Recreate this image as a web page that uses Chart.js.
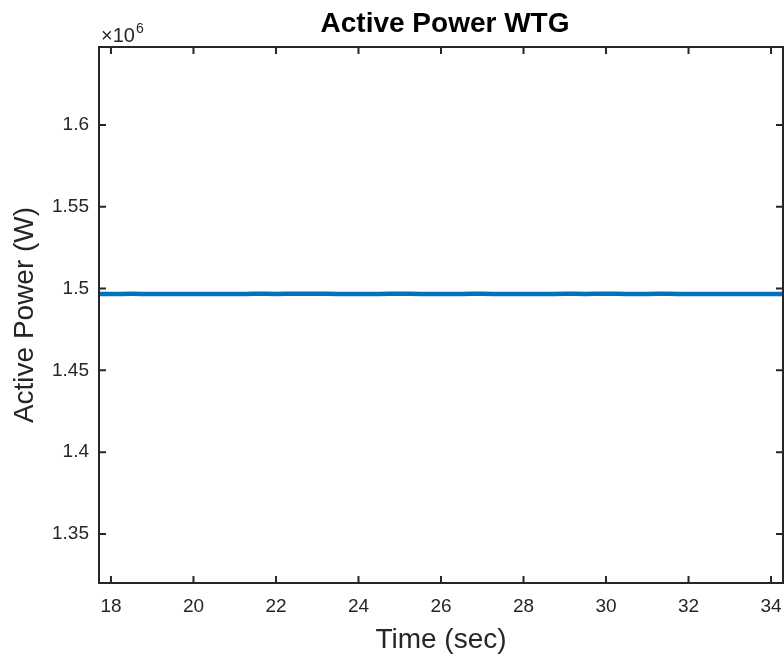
<!DOCTYPE html>
<html>
<head>
<meta charset="utf-8">
<script src="https://cdn.jsdelivr.net/npm/chart.js@4.4.1/dist/chart.umd.min.js"></script>
<style>
  html, body { margin: 0; padding: 0; background: #fff; }
  #wrap { width: 784px; height: 657px; }
</style>
</head>
<body>
<div id="wrap"><canvas id="chart" width="784" height="657"></canvas></div>
<script>
// data (time in sec, power in W)
const timeSec = [17.5, 18, 18.5, 19, 19.5, 20, 20.5, 21, 21.5, 22, 22.5, 23, 23.5, 24, 24.5, 25, 25.5,
  26, 26.5, 27, 27.5, 28, 28.5, 29, 29.5, 30, 30.5, 31, 31.5, 32, 32.5, 33, 33.5, 34, 34.5];
const powerW = [1496750, 1496700, 1496800, 1496650, 1496750, 1496700, 1496750, 1496650, 1496800, 1496750,
  1496900, 1496800, 1496750, 1496700, 1496750, 1496850, 1496700, 1496650, 1496750, 1496800, 1496650,
  1496700, 1496650, 1496800, 1496750, 1496850, 1496700, 1496750, 1496800, 1496700, 1496750, 1496650,
  1496700, 1496750, 1496700];
const xTicks = [18, 20, 22, 24, 26, 28, 30, 32, 34];
const yTicks = [1.35e6, 1.4e6, 1.45e6, 1.5e6, 1.55e6, 1.6e6];

const FONT = '"Liberation Sans", Arial, Helvetica, sans-serif';
const AX = '#262626';

// box, inward ticks, title and exponent label (MATLAB look)
const matlabAxes = {
  id: 'matlabAxes',
  afterDraw(chart) {
    const { ctx, chartArea: a, scales } = chart;
    ctx.save();
    ctx.strokeStyle = AX;
    ctx.lineWidth = 2;
    ctx.strokeRect(a.left, a.top, a.right - a.left, a.bottom - a.top);
    ctx.beginPath();
    xTicks.forEach(t => {
      const x = scales.x.getPixelForValue(t);
      ctx.moveTo(x, a.bottom); ctx.lineTo(x, a.bottom - 7);
      ctx.moveTo(x, a.top); ctx.lineTo(x, a.top + 7);
    });
    yTicks.forEach(t => {
      const y = scales.y.getPixelForValue(t);
      ctx.moveTo(a.left, y); ctx.lineTo(a.left + 7, y);
      ctx.moveTo(a.right, y); ctx.lineTo(a.right - 7, y);
    });
    ctx.stroke();

    ctx.fillStyle = '#000';
    ctx.font = 'bold 28px ' + FONT;
    ctx.textAlign = 'center';
    ctx.textBaseline = 'alphabetic';
    ctx.fillText('Active Power WTG', (a.left + a.right) / 2 + 4, 32);

    ctx.fillStyle = AX;
    ctx.textAlign = 'left';
    ctx.font = '20px ' + FONT;
    ctx.fillText('\u00d710', a.left + 2, 42);
    const w = ctx.measureText('\u00d710').width;
    ctx.font = '14px ' + FONT;
    ctx.fillText('6', a.left + 3 + w, 33);
    ctx.restore();
  }
};

new Chart(document.getElementById('chart'), {
  type: 'line',
  data: {
    datasets: [{
      data: timeSec.map((t, i) => ({ x: t, y: powerW[i] })),
      borderColor: '#0072BD',
      borderWidth: 4.5,
      pointRadius: 0,
      tension: 0.3,
      fill: false
    }]
  },
  options: {
    responsive: false,
    animation: false,
    layout: { padding: { top: 47, right: 1, left: 0, bottom: 0 } },
    plugins: { legend: { display: false }, tooltip: { enabled: false }, title: { display: false } },
    scales: {
      x: {
        type: 'linear',
        min: 17.71, max: 34.29,
        afterBuildTicks: s => { s.ticks = xTicks.map(v => ({ value: v })); },
        afterFit: s => { s.height = 74; s.paddingLeft = 0; s.paddingRight = 0; },
        grid: { display: false, drawTicks: false },
        border: { display: false },
        ticks: { color: AX, font: { family: FONT, size: 19 }, padding: 12, maxRotation: 0 },
        title: { display: true, text: 'Time (sec)', color: AX, font: { family: FONT, size: 28 }, padding: 0 }
      },
      y: {
        type: 'linear',
        min: 1.32e6, max: 1.6477e6,
        afterBuildTicks: s => { s.ticks = yTicks.map(v => ({ value: v })); },
        afterFit: s => { s.width = 99; s.paddingTop = 0; s.paddingBottom = 0; },
        grid: { display: false, drawTicks: false },
        border: { display: false },
        ticks: { color: AX, font: { family: FONT, size: 19 }, padding: 10,
          callback: v => String(Math.round(v / 1e4) / 100) },
        title: { display: true, text: 'Active Power (W)', color: AX, font: { family: FONT, size: 28 },
          padding: { top: 8, bottom: 0 } }
      }
    }
  },
  plugins: [matlabAxes]
});
</script>
</body>
</html>
